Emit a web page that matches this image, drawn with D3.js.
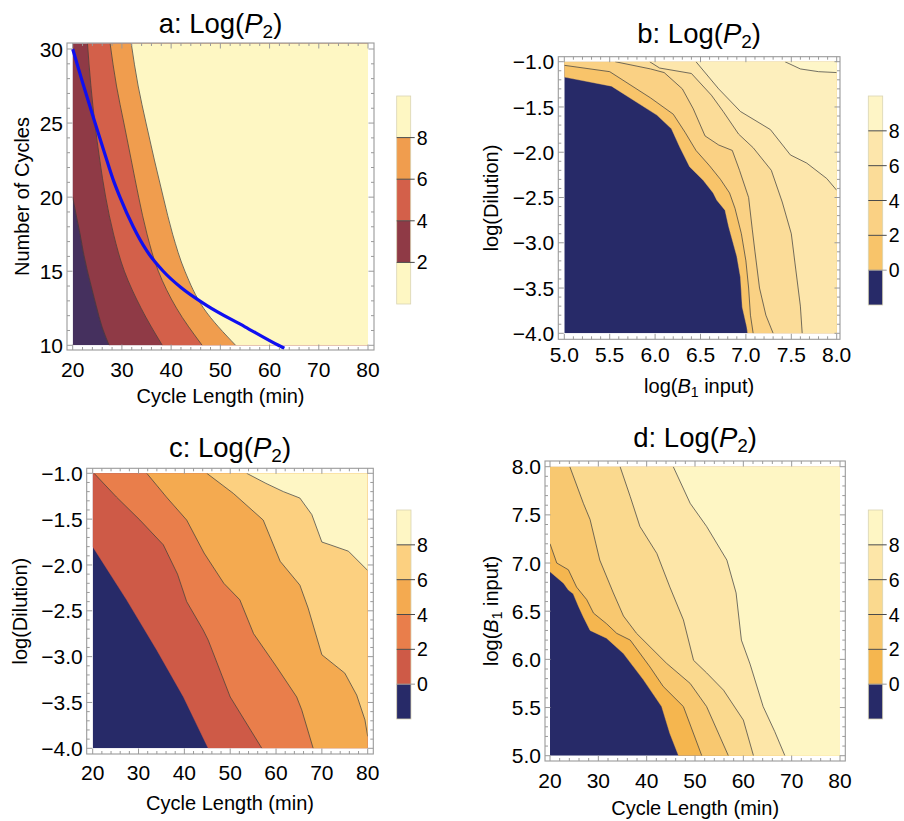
<!DOCTYPE html>
<html><head><meta charset="utf-8">
<script src="https://cdn.jsdelivr.net/npm/d3@7"></script>
<style>
body{margin:0;background:#fff}
svg{display:block}
text{font-family:"Liberation Sans",Arial,sans-serif;fill:#000}
</style>
</head><body>
<svg id="chart" width="904" height="821"></svg>
<script>
// ================= DATA =================
const cycleLengthTicks = [20, 30, 40, 50, 60, 70, 80];
const cyclesTicks = [10, 15, 20, 25, 30];
const dilutionTicks = [-1.0, -1.5, -2.0, -2.5, -3.0, -3.5, -4.0];
const b1Ticks = [5.0, 5.5, 6.0, 6.5, 7.0, 7.5, 8.0];
const legendTicksA = [2, 4, 6, 8];
const legendTicksBCD = [0, 2, 4, 6, 8];

// Panel a: contour lines, [cycle length (min), number of cycles]
const aLevels = [2, 4, 6, 8];
const aLine2 = [[20,20.0],[20.7,18.8],[21.5,17.5],[22.2,16.2],[23.0,15],[23.9,13.8],[24.9,12.5],[26.0,11.2],[27.4,10]];
const aLine4 = [[23.0,30.37],[23.7,27.5],[24.5,25],[25.5,22.5],[26.7,20],[28.3,17.5],[30.5,15],[33.9,12.5],[38.2,10]];
const aLine6 = [[27.6,30.37],[28.9,27.5],[30.4,25],[31.9,22.5],[33.4,20],[35.1,17.5],[37.4,15],[41.1,12.5],[46.3,10]];
const aLine8 = [[31.9,30.37],[33.3,27.5],[34.9,25],[36.6,22.5],[38.4,20],[40.3,17.5],[42.8,15],[46.6,12.5],[53.1,10]];
const aBlueCurve = [[20,30],[22,27.75],[24.5,25.05],[26.5,22.95],[28.2,21.2],[29.6,20.0],[32.3,18.0],[35,16.4],[38.4,15.0],[42,13.9],[47.2,12.7],[55,11.25],[61.8,10],[63,9.8]];

// Panel b: contour lines, [log(B1 input), log(Dilution)]
const bLevels = [0, 2, 4, 6, 8, 10];
const bLine0 = [[5.0,-1.17],[5.52,-1.27],[6.02,-1.59],[6.18,-1.74],[6.27,-1.94],[6.38,-2.16],[6.53,-2.31],[6.64,-2.45],[6.68,-2.53],[6.77,-2.64],[6.81,-2.82],[6.90,-3.15],[6.94,-3.38],[6.96,-3.71],[7.01,-3.93],[7.02,-4.0]];
const bLine2 = [[5.0,-1.04],[5.5,-1.11],[5.95,-1.40],[6.2,-1.58],[6.33,-1.78],[6.45,-1.98],[6.6,-2.15],[6.72,-2.3],[6.82,-2.45],[6.88,-2.62],[6.95,-2.9],[7.0,-3.2],[7.03,-3.5],[7.05,-3.8],[7.08,-4.0]];
const bLine4 = [[5.56,-1.0],[5.95,-1.08],[6.1,-1.12],[6.3,-1.3],[6.42,-1.52],[6.55,-1.82],[6.7,-1.92],[6.85,-1.98],[6.93,-2.2],[7.03,-2.5],[7.07,-2.85],[7.1,-3.1],[7.15,-3.5],[7.22,-3.8],[7.3,-4.0]];
const bLine6 = [[5.94,-1.0],[6.05,-1.07],[6.4,-1.13],[6.62,-1.37],[6.75,-1.55],[6.92,-1.8],[7.08,-1.95],[7.28,-2.2],[7.4,-2.55],[7.5,-2.9],[7.55,-3.3],[7.6,-3.7],[7.62,-4.0]];
const bLine8 = [[6.45,-1.0],[6.7,-1.3],[6.94,-1.55],[7.27,-1.75],[7.49,-2.03],[7.67,-2.12],[7.89,-2.29],[8.0,-2.42]];
const bLine10 = [[7.43,-1.0],[7.6,-1.08],[7.8,-1.11],[8.0,-1.12]];

// Panel c: contour lines, [cycle length (min), log(Dilution)]
const cLevels = [0, 2, 4, 6, 8];
const cLine0 = [[20,-1.8],[27.4,-2.38],[34.0,-2.93],[39.8,-3.44],[45.2,-4.0]];
const cLine2 = [[20.3,-1.0],[25.2,-1.26],[30.3,-1.51],[35.4,-1.78],[38.5,-2.1],[40.5,-2.4],[44.1,-2.71],[45.2,-2.82],[50.0,-3.44],[56.9,-4.0]];
const cLine4 = [[31.8,-1.0],[36.1,-1.26],[40.5,-1.51],[44.3,-1.87],[48.6,-2.2],[52.1,-2.38],[55.1,-2.75],[60.1,-3.11],[64.5,-3.44],[65.6,-3.58],[68.1,-4.0]];
const cLine6 = [[44.9,-1.0],[50.7,-1.22],[57.2,-1.51],[60.9,-1.96],[65.2,-2.22],[67.0,-2.47],[70.0,-2.98],[75.0,-3.18],[77.6,-3.42],[79.4,-3.69],[80,-3.87]];
const cLine8 = [[53.6,-1.0],[57.8,-1.11],[61.6,-1.2],[65.2,-1.27],[67.8,-1.45],[70.0,-1.75],[71.8,-1.78],[75.8,-1.85],[80,-2.06]];

// Panel d: contour lines, [cycle length (min), log(B1 input)]
const dLevels = [0, 2, 4, 6, 8];
const dLine0 = [[20,6.91],[22.8,6.79],[23.8,6.72],[24.8,6.68],[25.9,6.55],[26.9,6.44],[28.3,6.30],[31.7,6.22],[35.2,6.06],[39.3,5.79],[43.1,5.51],[44.8,5.23],[46.6,5.0]];
const dLine2 = [[20,7.2],[21.4,7.0],[23.8,6.93],[25.5,6.75],[27.6,6.62],[29,6.48],[31.7,6.37],[33.8,6.27],[36.6,6.2],[40.7,5.92],[43.4,5.72],[47.6,5.51],[51.4,5.0]];
const dLine4 = [[24.1,8.0],[26.9,7.62],[28.3,7.45],[30.3,7.03],[33.1,6.69],[35.2,6.45],[37.9,6.27],[44.1,5.96],[49,5.75],[52.4,5.51],[56.9,5.0]];
const dLine6 = [[34.5,8.0],[36.6,7.69],[38.6,7.38],[42.1,7.1],[44.8,6.75],[47.6,6.41],[49.7,5.99],[52.4,5.86],[55.9,5.68],[60,5.37],[62.1,5.0]];
const dLine8 = [[45.5,8.0],[49,7.62],[52.4,7.38],[56.6,7.03],[58.5,6.69],[59.6,6.2],[61.4,5.95],[64.1,5.51],[66.5,5.25],[68.6,5.0]];

// ================= STYLE =================
const NAVY = "#272a68";
const colorsA = ["#45305e","#8f3a46","#d3604a","#f09d4e","#fef7c3"];
const legendColorsA = ["#fef7c3","#8f3a46","#d3604a","#f09d4e","#fef7c3"];
const colorsB = [NAVY,"#f8c46a","#fad184","#fbdc98","#fde6ab","#fdefbd","#fef6c8"];
const legendColorsB = [NAVY,"#f8c46a","#fad184","#fbdc98","#fde6ab","#fef5c6"];
const colorsC = [NAVY,"#ce5a47","#e97e4b","#f4aa50","#fcd080","#fef6c4"];
const colorsD = [NAVY,"#f5b64f","#f8c870","#fad98e","#fde6a8","#fef6c4"];
const FRAME = "#9a9a9a";

const svg = d3.select("#chart");
const fmt1 = d3.format(".1f");

function perim(p, R) {
  const [x, y] = p;
  const w = R.x1 - R.x0, h = R.y1 - R.y0;
  const dl = Math.abs(x - R.x0) / w, dr = Math.abs(x - R.x1) / w;
  const db = Math.abs(y - R.y0) / h, dt = Math.abs(y - R.y1) / h;
  const m = Math.min(dl, dr, db, dt);
  if (m === dl) return (y - R.y0) / h;
  if (m === dt) return 1 + (x - R.x0) / w;
  if (m === dr) return 2 + (R.y1 - y) / h;
  return 3 + (R.x1 - x) / w;
}
function corner(k, R) {
  k = ((k % 4) + 4) % 4;
  return [[R.x0, R.y0], [R.x0, R.y1], [R.x1, R.y1], [R.x1, R.y0]][k];
}
// corners needed to close a boundary-to-boundary line on its high side (side containing top-right corner)
function closingCorners(pts, R) {
  const sS = perim(pts[0], R), sE = perim(pts[pts.length - 1], R);
  let fwd = [], t = sS <= sE ? sS + 4 : sS;
  let hasTR = false;
  for (let k = Math.floor(sE) + 1; k < t; k++) { fwd.push(k); if (((k % 4) + 4) % 4 === 2) hasTR = true; }
  if (hasTR) return fwd.map(k => corner(k, R));
  let back = []; t = sS >= sE ? sS - 4 : sS;
  for (let k = Math.ceil(sE) - 1; k > t; k--) back.push(k);
  return back.map(k => corner(k, R));
}

let clipId = 0;
function drawPanel(cfg) {
  const g = svg.append("g");
  const x = d3.scaleLinear().domain(cfg.xDomain).range(cfg.xRange);
  const y = d3.scaleLinear().domain(cfg.yDomain).range(cfg.yRange);
  const R = cfg.extent;
  const id = "clip" + (clipId++);
  const fid = "fclip" + (clipId++);
  svg.append("clipPath").attr("id", id).append("rect")
    .attr("x", x(R.x0)).attr("y", y(R.y1)).attr("width", x(R.x1) - x(R.x0)).attr("height", y(R.y0) - y(R.y1));
  const F = cfg.frame;
  svg.append("clipPath").attr("id", fid).append("rect")
    .attr("x", F.x0).attr("y", F.y0).attr("width", F.x1 - F.x0).attr("height", F.y1 - F.y0);

  const fills = g.append("g").attr("clip-path", `url(#${id})`);
  fills.append("rect").attr("x", x(R.x0)).attr("y", y(R.y1))
    .attr("width", x(R.x1) - x(R.x0)).attr("height", y(R.y0) - y(R.y1))
    .attr("fill", cfg.colors[0]);
  const lineGen = d3.line().x(d => x(d[0])).y(d => y(d[1]));
  if (cfg.smooth) lineGen.curve(d3.curveMonotoneY);
  cfg.lines.forEach((pts, i) => {
    const cs = closingCorners(pts, R);
    const dstr = lineGen(pts) + cs.map(c => "L" + x(c[0]) + "," + y(c[1])).join("") + "Z";
    fills.append("path").attr("d", dstr).attr("fill", cfg.colors[i + 1]).attr("stroke", cfg.colors[i + 1]).attr("stroke-width", 0.4);
  });
  cfg.lines.forEach((pts, i) => {
    if (cfg.levels[i] === 0) return;
    fills.append("path").attr("d", lineGen(pts)).attr("fill", "none")
      .attr("stroke", "#3c3c3c").attr("stroke-width", 0.8).attr("stroke-opacity", 0.9);
  });
  if (cfg.extra) cfg.extra(g, x, y, fid);

  // frame
  g.append("rect").attr("x", F.x0).attr("y", F.y0).attr("width", F.x1 - F.x0).attr("height", F.y1 - F.y0)
    .attr("fill", "none").attr("stroke", FRAME).attr("stroke-width", 1.1);
  const tk = g.append("g").attr("stroke", FRAME).attr("stroke-width", 1);
  const inX = v => x(v) >= F.x0 + 0.5 && x(v) <= F.x1 - 0.5;
  const inY = v => y(v) >= F.y0 + 0.5 && y(v) <= F.y1 - 0.5;
  const minorX = d3.range(cfg.xDomain[0] - 5 * cfg.xMinor, cfg.xDomain[1] + 5 * cfg.xMinor + 1e-9, cfg.xMinor);
  const minorY = d3.range(cfg.yDomain[0] - 5 * cfg.yMinor, cfg.yDomain[1] + 5 * cfg.yMinor + 1e-9, cfg.yMinor);
  const isMajor = (v, arr) => arr.some(t => Math.abs(t - v) < 1e-6);
  minorX.filter(inX).forEach(v => {
    const L = isMajor(v, cfg.xTicks) ? 5.5 : 3;
    tk.append("line").attr("x1", x(v)).attr("x2", x(v)).attr("y1", F.y1).attr("y2", F.y1 - L);
    tk.append("line").attr("x1", x(v)).attr("x2", x(v)).attr("y1", F.y0).attr("y2", F.y0 + L);
  });
  minorY.filter(inY).forEach(v => {
    const L = isMajor(v, cfg.yTicks) ? 5.5 : 3;
    tk.append("line").attr("y1", y(v)).attr("y2", y(v)).attr("x1", F.x0).attr("x2", F.x0 + L);
    tk.append("line").attr("y1", y(v)).attr("y2", y(v)).attr("x1", F.x1).attr("x2", F.x1 - L);
  });
  cfg.xTicks.forEach(v => {
    g.append("text").attr("x", x(v)).attr("y", F.y1 + cfg.xLabelOff).attr("text-anchor", "middle")
      .attr("font-size", 21).text(cfg.xFmt(v));
  });
  cfg.yTicks.forEach(v => {
    g.append("text").attr("x", F.x0 - 4).attr("y", y(v)).attr("dy", "0.36em").attr("text-anchor", "end")
      .attr("font-size", 21).text(cfg.yFmt(v));
  });
  // title
  const tcx = (F.x0 + F.x1) / 2;
  const t = g.append("text").attr("x", tcx).attr("y", cfg.titleY).attr("text-anchor", "middle").attr("font-size", 27.5);
  t.append("tspan").text(cfg.letter + ": Log(");
  t.append("tspan").attr("font-style", "italic").text("P");
  t.append("tspan").attr("font-size", 19).attr("dy", 5).text("2");
  t.append("tspan").attr("dy", -5).text(")");
  // axis labels
  const xl = g.append("text").attr("x", tcx).attr("y", cfg.xTitleY).attr("text-anchor", "middle").attr("font-size", 20);
  cfg.xTitle(xl);
  const yl = g.append("text").attr("transform", `translate(${cfg.yTitleX},${(F.y0 + F.y1) / 2}) rotate(-90)`)
    .attr("text-anchor", "middle").attr("font-size", 20);
  cfg.yTitle(yl);
}

function b1Label(el) {
  el.append("tspan").text("log(");
  el.append("tspan").attr("font-style", "italic").text("B");
  el.append("tspan").attr("font-size", 14).attr("dy", 4).text("1");
  el.append("tspan").attr("dy", -4).text(" input)");
}

function drawLegend(cfg) {
  const g = svg.append("g");
  const s = d3.scaleLinear().domain(cfg.domain).range([cfg.yBottom, cfg.yTop]);
  const edges = [cfg.domain[0], ...cfg.ticks, cfg.domain[1]];
  for (let i = 0; i < edges.length - 1; i++) {
    g.append("rect").attr("x", cfg.x).attr("width", cfg.w)
      .attr("y", s(edges[i + 1])).attr("height", s(edges[i]) - s(edges[i + 1]))
      .attr("fill", cfg.colors[i]);
  }
  g.append("rect").attr("x", cfg.x).attr("width", cfg.w).attr("y", cfg.yTop).attr("height", cfg.yBottom - cfg.yTop)
    .attr("fill", "none").attr("stroke", "#d9d4b4").attr("stroke-width", 0.8);
  cfg.ticks.forEach(v => {
    g.append("line").attr("x1", cfg.x).attr("x2", cfg.x + cfg.w + 4).attr("y1", s(v)).attr("y2", s(v))
      .attr("stroke", v === 0 ? "#9a9a9a" : "#4a4a4a").attr("stroke-width", 1);
    g.append("text").attr("x", cfg.x + cfg.w + 6).attr("y", s(v)).attr("dy", "0.36em")
      .attr("font-size", 19.5).text(v);
  });
}

// ---- panel a ----
drawPanel({
  letter: "a",
  xDomain: [20, 80], xRange: [72.7, 368],
  yDomain: [10, 30], yRange: [345.3, 49],
  extent: { x0: 20, x1: 80, y0: 10, y1: 30.37 },
  frame: { x0: 67, x1: 374, y0: 43, y1: 350 },
  xTicks: cycleLengthTicks, yTicks: cyclesTicks, xMinor: 2, yMinor: 1,
  xFmt: d => d, yFmt: d => d,
  levels: aLevels, lines: [aLine2, aLine4, aLine6, aLine8], colors: colorsA, smooth: true,
  xLabelOff: 26.5, titleY: 33, xTitleY: 403, yTitleX: 29,
  xTitle: el => el.text("Cycle Length (min)"),
  yTitle: el => el.text("Number of Cycles"),
  extra: (g, x, y, fid) => {
    g.append("path").attr("clip-path", `url(#${fid})`)
      .attr("d", d3.line().x(d => x(d[0])).y(d => y(d[1])).curve(d3.curveMonotoneX)(aBlueCurve))
      .attr("fill", "none").attr("stroke", "#0f0ff0").attr("stroke-width", 3.2);
  }
});
drawLegend({ x: 396.7, w: 14, yTop: 96, yBottom: 304, domain: [0, 10], ticks: legendTicksA, colors: legendColorsA });

// ---- panel b ----
drawPanel({
  letter: "b",
  xDomain: [5, 8], xRange: [564.3, 836.7],
  yDomain: [-4, -1], yRange: [333.3, 61.7],
  extent: { x0: 5, x1: 8, y0: -4, y1: -1 },
  frame: { x0: 558.3, x1: 840, y0: 56.7, y1: 339.3 },
  xTicks: b1Ticks, yTicks: dilutionTicks, xMinor: 0.1, yMinor: 0.1,
  xFmt: fmt1, yFmt: fmt1,
  levels: bLevels, lines: [bLine0, bLine2, bLine4, bLine6, bLine8, bLine10], colors: colorsB,
  xLabelOff: 23, titleY: 43, xTitleY: 393, yTitleX: 498,
  xTitle: b1Label,
  yTitle: el => el.text("log(Dilution)")
});
drawLegend({ x: 868.3, w: 14.4, yTop: 96, yBottom: 305, domain: [-2, 10], ticks: legendTicksBCD, colors: legendColorsB });

// ---- panel c ----
drawPanel({
  letter: "c",
  xDomain: [20, 80], xRange: [92.7, 367.7],
  yDomain: [-4, -1], yRange: [748.3, 473.3],
  extent: { x0: 20, x1: 80, y0: -4, y1: -1 },
  frame: { x0: 86.7, x1: 373.3, y0: 468.3, y1: 754 },
  xTicks: cycleLengthTicks, yTicks: dilutionTicks, xMinor: 2, yMinor: 0.1,
  xFmt: d => d, yFmt: fmt1,
  levels: cLevels, lines: [cLine0, cLine2, cLine4, cLine6, cLine8], colors: colorsC,
  xLabelOff: 26, titleY: 456.7, xTitleY: 810, yTitleX: 27,
  xTitle: el => el.text("Cycle Length (min)"),
  yTitle: el => el.text("log(Dilution)")
});
drawLegend({ x: 396.7, w: 14.3, yTop: 510, yBottom: 719, domain: [-2, 10], ticks: legendTicksBCD, colors: colorsC });

// ---- panel d ----
drawPanel({
  letter: "d",
  xDomain: [20, 80], xRange: [550, 840],
  yDomain: [5, 8], yRange: [755.7, 466.7],
  extent: { x0: 20, x1: 80, y0: 5, y1: 8 },
  frame: { x0: 545, x1: 845.3, y0: 461, y1: 761 },
  xTicks: cycleLengthTicks, yTicks: b1Ticks, xMinor: 2, yMinor: 0.1,
  xFmt: d => d, yFmt: fmt1,
  levels: dLevels, lines: [dLine0, dLine2, dLine4, dLine6, dLine8], colors: colorsD,
  xLabelOff: 27, titleY: 446.7, xTitleY: 815, yTitleX: 498,
  xTitle: el => el.text("Cycle Length (min)"),
  yTitle: b1Label
});
drawLegend({ x: 868.3, w: 14.4, yTop: 510, yBottom: 719, domain: [-2, 10], ticks: legendTicksBCD, colors: colorsD });
</script>
</body></html>
